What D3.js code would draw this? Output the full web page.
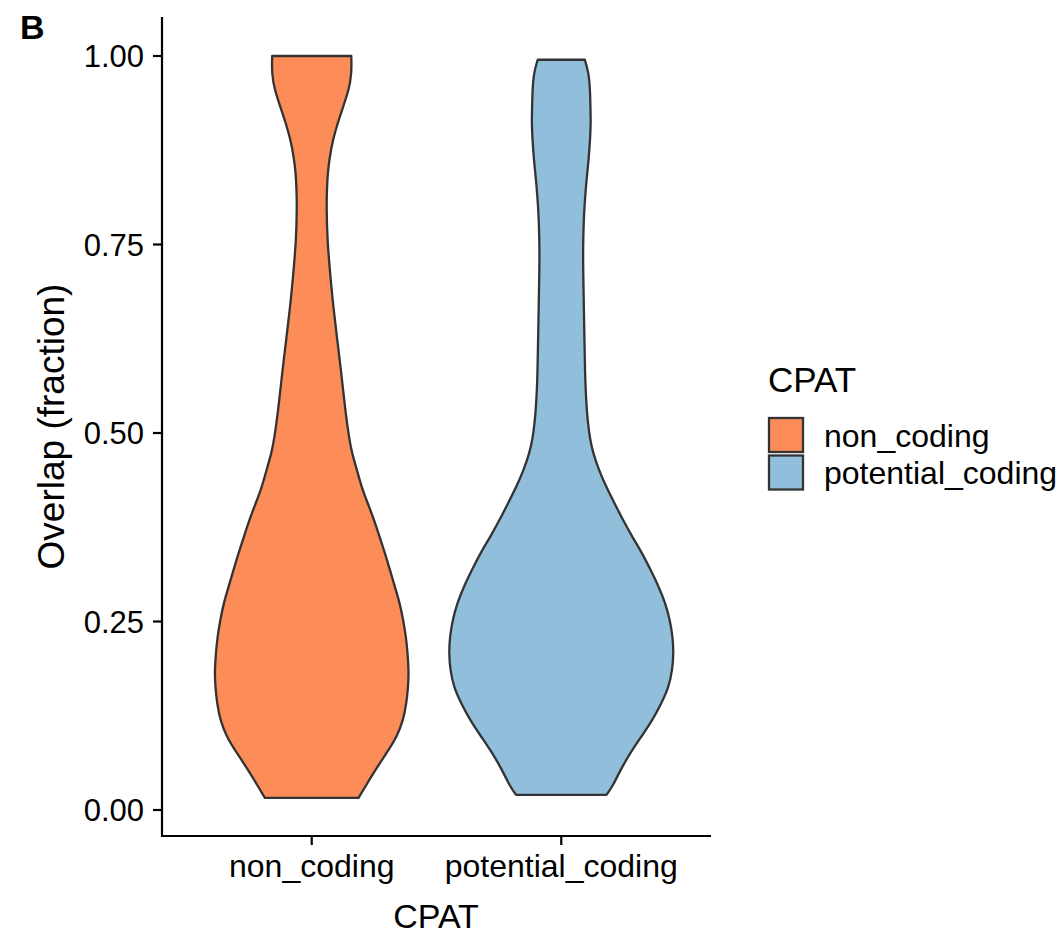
<!DOCTYPE html>
<html>
<head>
<meta charset="utf-8">
<script src="https://cdn.jsdelivr.net/npm/d3@7"></script>
<style>
  html, body { margin: 0; padding: 0; background: #fff; }
  svg text { font-family: "Liberation Sans", Arial, Helvetica, sans-serif; fill: #000; }
</style>
</head>
<body>
<svg id="chart" width="1059" height="937"></svg>
<script>
// Groups on the x axis (CPAT classification)
const categories = ["non_coding", "potential_coding"];
const fillColors = ["#FC8D59", "#91BFDB"];

// Y tick values and labels
const yTicks = [0, 0.25, 0.5, 0.75, 1.0];
const yTickLabels = ["0.00", "0.25", "0.50", "0.75", "1.00"];

// Kernel density profile of overlap fraction, non_coding
const ncOverlap = [1.000, 0.977, 0.955, 0.932, 0.911, 0.889, 0.866, 0.845, 0.822, 0.800,
  0.756, 0.712, 0.667, 0.623, 0.580, 0.534, 0.491, 0.473, 0.451, 0.428,
  0.407, 0.385, 0.362, 0.341, 0.318, 0.296, 0.275, 0.252, 0.229, 0.208,
  0.182, 0.162, 0.142, 0.119, 0.097, 0.076, 0.053, 0.031, 0.016];
const ncDensity = [0.99, 1.00, 0.93, 0.78, 0.65, 0.53, 0.45, 0.40, 0.38, 0.37,
  0.39, 0.46, 0.54, 0.64, 0.74, 0.83, 0.94, 1.01, 1.13, 1.25,
  1.40, 1.56, 1.70, 1.83, 1.96, 2.08, 2.20, 2.29, 2.36, 2.40,
  2.43, 2.41, 2.37, 2.29, 2.13, 1.88, 1.59, 1.34, 1.17];

// Kernel density profile of overlap fraction, potential_coding
const pcOverlap = [0.995, 0.977, 0.955, 0.932, 0.911, 0.889, 0.866, 0.845, 0.822, 0.800,
  0.778, 0.756, 0.733, 0.712, 0.667, 0.623, 0.580, 0.557, 0.534, 0.517,
  0.491, 0.473, 0.451, 0.428, 0.407, 0.385, 0.362, 0.341, 0.318, 0.296,
  0.275, 0.252, 0.229, 0.208, 0.186, 0.163, 0.142, 0.119, 0.097, 0.076,
  0.053, 0.031, 0.020];
const pcDensity = [0.59, 0.69, 0.72, 0.73, 0.74, 0.72, 0.69, 0.65, 0.61, 0.58,
  0.56, 0.55, 0.545, 0.55, 0.565, 0.58, 0.595, 0.61, 0.635, 0.66,
  0.72, 0.80, 0.94, 1.13, 1.33, 1.54, 1.78, 2.02, 2.24, 2.44,
  2.60, 2.72, 2.79, 2.81, 2.78, 2.69, 2.51, 2.28, 2.00, 1.73,
  1.48, 1.28, 1.13];

const profiles = [
  { group: categories[0], y: ncOverlap, d: ncDensity, fill: fillColors[0] },
  { group: categories[1], y: pcOverlap, d: pcDensity, fill: fillColors[1] }
];

const svg = d3.select("#chart");

// Panel geometry
const panel = { left: 162, right: 711, top: 17, bottom: 836 };

const x = d3.scalePoint()
  .domain(categories)
  .range([panel.left, panel.right])
  .padding(0.6);

const y = d3.scaleLinear()
  .domain([0, 1])
  .range([810, 56]);

const maxDensity = d3.max(profiles, p => d3.max(p.d));
const halfWidth = d3.scaleLinear()
  .domain([0, maxDensity])
  .range([0, 0.45 * x.step()]);

// Violins: mirrored density outline around each group centre
const area = d3.area()
  .curve(d3.curveBasis)
  .y(p => y(p.v));

svg.append("g").selectAll("path")
  .data(profiles)
  .join("path")
  .attr("d", p => {
    const cx = x(p.group);
    const pts = p.y.map((v, i) => ({ v, w: halfWidth(p.d[i]) }));
    return area.x0(q => cx - q.w).x1(q => cx + q.w)(pts);
  })
  .attr("fill", p => p.fill)
  .attr("stroke", "#333333")
  .attr("stroke-width", 2.3)
  .attr("stroke-linejoin", "round");

// Axes
const yAxis = svg.append("g").attr("transform", `translate(${panel.left},0)`);
yAxis.append("line")
  .attr("x1", 0).attr("x2", 0)
  .attr("y1", panel.top).attr("y2", panel.bottom + 1)
  .attr("stroke", "#000").attr("stroke-width", 2.2);
yAxis.selectAll(".tick")
  .data(yTicks)
  .join("g")
  .attr("class", "tick")
  .attr("transform", d => `translate(0,${y(d)})`)
  .each(function (d, i) {
    const g = d3.select(this);
    g.append("line").attr("x1", -9).attr("x2", 0).attr("stroke", "#000").attr("stroke-width", 2.2);
    g.append("text")
      .attr("x", -18).attr("dy", "0.36em")
      .attr("text-anchor", "end")
      .attr("font-size", 31)
      .text(yTickLabels[i]);
  });

const xAxis = svg.append("g").attr("transform", `translate(0,${panel.bottom})`);
xAxis.append("line")
  .attr("x1", panel.left - 1).attr("x2", panel.right)
  .attr("y1", 0).attr("y2", 0)
  .attr("stroke", "#000").attr("stroke-width", 2.2);
xAxis.selectAll(".tick")
  .data(categories)
  .join("g")
  .attr("class", "tick")
  .attr("transform", d => `translate(${x(d)},0)`)
  .each(function (d) {
    const g = d3.select(this);
    g.append("line").attr("y1", 0).attr("y2", 9).attr("stroke", "#000").attr("stroke-width", 2.2);
    g.append("text")
      .attr("y", 41)
      .attr("text-anchor", "middle")
      .attr("font-size", 32)
      .text(d);
  });

// Axis titles
svg.append("text")
  .attr("x", (panel.left + panel.right) / 2 - 0.5)
  .attr("y", 928)
  .attr("text-anchor", "middle")
  .attr("font-size", 34)
  .text("CPAT");

svg.append("text")
  .attr("transform", `translate(64,${(panel.top + panel.bottom) / 2}) rotate(-90)`)
  .attr("text-anchor", "middle")
  .attr("font-size", 37)
  .text("Overlap (fraction)");

// Panel tag
svg.append("text")
  .attr("x", 20)
  .attr("y", 39)
  .attr("font-size", 34)
  .attr("font-weight", "bold")
  .text("B");

// Legend
const legend = svg.append("g").attr("transform", "translate(768,0)");
legend.append("text")
  .attr("x", 0).attr("y", 392)
  .attr("font-size", 35)
  .text("CPAT");
const keys = legend.selectAll(".key")
  .data(categories)
  .join("g")
  .attr("class", "key")
  .attr("transform", (d, i) => `translate(0,${418 + i * 37.5})`);
keys.append("rect")
  .attr("x", 1).attr("y", 0)
  .attr("width", 34).attr("height", 34)
  .attr("fill", (d, i) => fillColors[i])
  .attr("stroke", "#333333")
  .attr("stroke-width", 2.3);
keys.append("text")
  .attr("x", 56).attr("y", 17)
  .attr("dy", "0.36em")
  .attr("font-size", 32)
  .text(d => d);
</script>
</body>
</html>
